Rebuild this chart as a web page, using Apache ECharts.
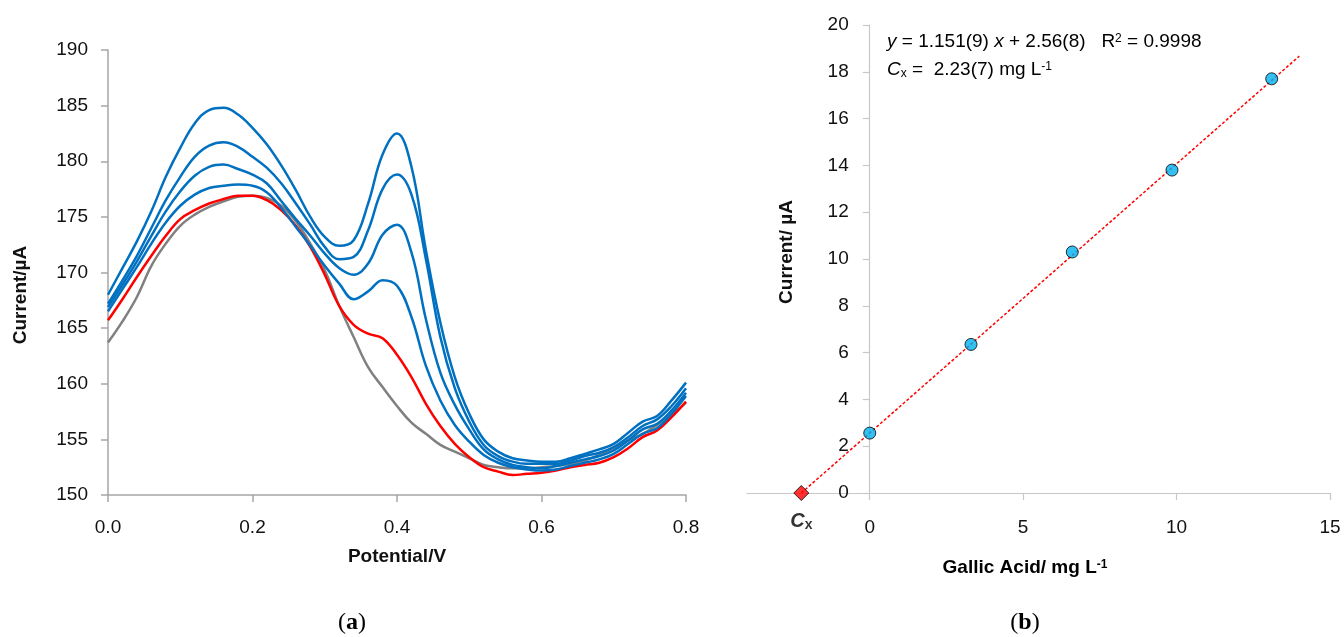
<!DOCTYPE html>
<html>
<head>
<meta charset="UTF-8">
<title>Gallic acid voltammetry</title>
<script src="https://cdn.jsdelivr.net/npm/echarts@6/dist/echarts.min.js"></script>
<style>
  html, body { margin: 0; padding: 0; background: #fff; }
  #main { width: 1344px; height: 637px; }
</style>
</head>
<body>
<div id="main"></div>
<script>
// (a) voltammograms, potential in V, current in uA
var potential = [0.00, 0.02, 0.04, 0.06, 0.08, 0.10, 0.12, 0.14, 0.16, 0.18,
                 0.20, 0.22, 0.24, 0.26, 0.28, 0.30, 0.32, 0.34, 0.36, 0.38,
                 0.40, 0.42, 0.44, 0.46, 0.48, 0.50, 0.52, 0.54, 0.56, 0.58,
                 0.60, 0.62, 0.64, 0.66, 0.68, 0.70, 0.72, 0.74, 0.76, 0.78, 0.80];

var blank = [163.7, 165.6, 167.8, 170.6, 172.6, 174.2, 175.2, 175.9, 176.4, 176.8,
             176.9, 176.7, 176.0, 174.6, 172.6, 170.2, 167.0, 164.2, 161.5, 159.7,
             158.0, 156.5, 155.5, 154.5, 153.9, 153.3, 152.7, 152.5, 152.4, 152.4,
             152.5, 152.6, 152.8, 153.1, 153.6, 154.2, 154.9, 155.5, 156.3, 157.2, 158.3];

var sample = [165.7, 167.6, 169.6, 171.5, 173.3, 174.8, 175.6, 176.2, 176.6, 176.9,
              176.9, 176.5, 175.6, 174.2, 172.3, 169.8, 167.0, 165.3, 164.5, 164.1,
              162.6, 160.6, 158.2, 156.2, 154.6, 153.4, 152.5, 152.1, 151.8, 151.9,
              152.0, 152.2, 152.5, 152.7, 152.9, 153.4, 154.2, 155.2, 155.8, 157.0, 158.4];

var add1 = [166.5, 168.5, 170.5, 172.6, 174.5, 176.0, 177.0, 177.6, 177.8, 177.9,
            177.8, 177.2, 175.8, 174.1, 172.4, 170.6, 169.0, 167.6, 168.3, 169.3,
            168.8, 166.0, 161.6, 158.5, 156.3, 154.8, 153.6, 152.9, 152.5, 152.3,
            152.2, 152.3, 152.6, 152.9, 153.2, 153.7, 154.6, 155.5, 156.0, 157.3, 158.9];

var add2 = [166.9, 168.9, 171.0, 173.3, 175.5, 177.3, 178.7, 179.5, 179.7, 179.3,
            178.8, 178.0, 176.4, 174.8, 173.3, 171.7, 170.4, 169.8, 170.8, 173.4,
            174.3, 171.8, 165.8, 161.0, 158.1, 155.9, 154.1, 153.2, 152.7, 152.5,
            152.4, 152.6, 152.9, 153.2, 153.5, 154.0, 154.9, 155.9, 156.4, 157.6, 159.2];

var add3 = [167.2, 169.3, 171.5, 174.0, 176.5, 178.6, 180.4, 181.4, 181.7, 181.3,
            180.4, 179.4, 178.0, 176.2, 174.3, 172.3, 171.2, 171.4, 173.8, 177.5,
            178.8, 177.0, 171.2, 164.2, 159.6, 156.6, 154.5, 153.5, 153.0, 152.8,
            152.8, 152.8, 153.1, 153.5, 153.8, 154.3, 155.2, 156.2, 156.8, 158.0, 159.6];

var add4 = [168.0, 170.4, 172.8, 175.5, 178.6, 181.2, 183.4, 184.6, 184.8, 184.2,
            183.0, 181.5, 179.6, 177.4, 175.0, 173.2, 172.4, 172.9, 176.2, 180.6,
            182.5, 179.5, 172.0, 165.5, 160.6, 157.3, 155.0, 153.9, 153.3, 153.1,
            153.0, 153.0, 153.3, 153.7, 154.1, 154.6, 155.6, 156.6, 157.1, 158.5, 160.1];

// (b) standard additions
var gallicAdded = [0, 3.3, 6.6, 9.85, 13.1];
var peakCurrent = [2.56, 6.35, 10.3, 13.8, 17.7];
var cxPoint = [-2.23, 0];
var trendEnds = [[-2.23, 0], [14.0, 18.67]];

var xTicksB = [0, 5, 10, 15];

function pairs(xs, ys) {
  return xs.map(function (x, i) { return [x, ys[i]]; });
}

var font = 'Liberation Sans';
var txt = '#111';
var axisGrayA = '#a6a6a6';
var axisGrayB = '#c8c8c8';

// right plot: x from -4 to 15 over 583 px, y axis sits at x = 0
var gridB = { left: 747, top: 25, width: 583, height: 468 };
var yAxisShiftB = -(0 - (-4)) / 19 * gridB.width;

function curve(data, color, z) {
  return {
    type: 'line', xAxisIndex: 0, yAxisIndex: 0,
    data: pairs(potential, data), smooth: 0.4, symbol: 'none', z: z,
    lineStyle: { color: color, width: 2.5 }
  };
}

var myChart = echarts.init(document.getElementById('main'));

var option = {
  animation: false,
  grid: [
    { left: 108, top: 50, width: 578, height: 445 },
    gridB
  ],
  xAxis: [
    {
      gridIndex: 0, type: 'value', min: 0, max: 0.8, interval: 0.2,
      axisLine: { lineStyle: { color: axisGrayA, width: 1.5 } },
      axisTick: { show: true, length: 7, lineStyle: { color: axisGrayA, width: 1.5 } },
      axisLabel: { margin: 23, fontFamily: font, fontSize: 19, color: txt,
                   formatter: function (v) { return v.toFixed(1); } },
      splitLine: { show: false }
    },
    {
      gridIndex: 1, type: 'value', min: -4, max: 15,
      axisLine: { onZero: false, lineStyle: { color: axisGrayB, width: 1.2 } },
      axisTick: { show: true, length: 7, customValues: xTicksB, lineStyle: { color: axisGrayB, width: 1.2 } },
      axisLabel: { margin: 25, fontFamily: font, fontSize: 19, color: txt, customValues: xTicksB },
      splitLine: { show: false }
    }
  ],
  yAxis: [
    {
      gridIndex: 0, type: 'value', min: 150, max: 190, interval: 5,
      axisLine: { show: true, lineStyle: { color: axisGrayA, width: 1.5 } },
      axisTick: { show: true, length: 7, lineStyle: { color: axisGrayA, width: 1.5 } },
      axisLabel: { margin: 20, fontFamily: font, fontSize: 19, color: txt },
      splitLine: { show: false }
    },
    {
      gridIndex: 1, type: 'value', min: 0, max: 20, interval: 2,
      offset: yAxisShiftB,
      axisLine: { show: true, onZero: false, lineStyle: { color: axisGrayB, width: 1.2 } },
      axisTick: { show: true, length: 7, lineStyle: { color: axisGrayB, width: 1.2 } },
      axisLabel: { margin: 21, fontFamily: font, fontSize: 19, color: txt },
      splitLine: { show: false }
    }
  ],
  series: [
    curve(blank, '#808080', 2),
    curve(sample, '#ff0000', 3),
    curve(add1, '#0070c0', 4),
    curve(add2, '#0070c0', 4),
    curve(add3, '#0070c0', 4),
    curve(add4, '#0070c0', 4),
    {
      type: 'line', xAxisIndex: 1, yAxisIndex: 1, data: trendEnds,
      symbol: 'none', z: 3,
      lineStyle: { color: '#ff0000', width: 1.5, type: [3, 2] }
    },
    {
      type: 'scatter', xAxisIndex: 1, yAxisIndex: 1, data: pairs(gallicAdded, peakCurrent),
      symbol: 'circle', symbolSize: 12, z: 5,
      itemStyle: { color: '#00b0f0', borderColor: '#000', borderWidth: 1 }
    },
    {
      type: 'scatter', xAxisIndex: 1, yAxisIndex: 1, data: [cxPoint],
      symbol: 'diamond', symbolSize: 15, z: 5,
      itemStyle: { color: '#ff0000', borderColor: '#000', borderWidth: 1 },
      label: {
        show: true, position: 'bottom', distance: 9,
        formatter: '{c|C}{s|x}',
        rich: {
          c: { fontFamily: font, fontSize: 20, fontWeight: 'bold', fontStyle: 'italic', color: '#000' },
          s: { fontFamily: font, fontSize: 14, fontWeight: 'bold', color: '#000', verticalAlign: 'bottom', padding: [8, 0, 0, 0] }
        }
      }
    }
  ],
  graphic: [
    { type: 'text', x: 21, y: 295, rotation: Math.PI / 2,
      style: { text: 'Current/µA', font: 'bold 19px "Liberation Sans"', fill: txt, align: 'center', verticalAlign: 'middle' } },
    { type: 'text', x: 397, y: 557,
      style: { text: 'Potential/V', font: 'bold 19px "Liberation Sans"', fill: txt, align: 'center', verticalAlign: 'middle' } },
    { type: 'text', x: 787, y: 252, rotation: Math.PI / 2,
      style: { text: 'Current/ µA', font: 'bold 19px "Liberation Sans"', fill: txt, align: 'center', verticalAlign: 'middle' } },
    { type: 'text', x: 1025, y: 568,
      style: {
        text: '{b|Gallic Acid/ mg L}{sup|-1}', align: 'center', verticalAlign: 'middle',
        rich: {
          b: { fontFamily: font, fontSize: 19, fontWeight: 'bold', color: txt },
          sup: { fontFamily: font, fontSize: 12, fontWeight: 'bold', color: txt, verticalAlign: 'top' }
        }
      } },
    { type: 'text', x: 887, y: 42,
      style: {
        text: '{i|y}{n| = 1.151(9) }{i|x}{n| + 2.56(8)   R}{sup|2}{n| = 0.9998}',
        align: 'left', verticalAlign: 'middle',
        rich: {
          n: { fontFamily: font, fontSize: 19, color: txt },
          i: { fontFamily: font, fontSize: 19, fontStyle: 'italic', color: txt },
          sup: { fontFamily: font, fontSize: 12, color: txt, verticalAlign: 'top' }
        }
      } },
    { type: 'text', x: 887, y: 70,
      style: {
        text: '{i|C}{sub|x}{n| =  2.23(7) mg L}{sup|-1}',
        align: 'left', verticalAlign: 'middle',
        rich: {
          n: { fontFamily: font, fontSize: 19, color: txt },
          i: { fontFamily: font, fontSize: 19, fontStyle: 'italic', color: txt },
          sub: { fontFamily: font, fontSize: 12, color: txt, verticalAlign: 'bottom' },
          sup: { fontFamily: font, fontSize: 12, color: txt, verticalAlign: 'top' }
        }
      } },
    { type: 'text', x: 352, y: 623,
      style: {
        text: '{p|(}{b|a}{p|)}', align: 'center', verticalAlign: 'middle',
        rich: {
          p: { fontFamily: 'Liberation Serif', fontSize: 24, color: txt },
          b: { fontFamily: 'Liberation Serif', fontSize: 24, fontWeight: 'bold', color: txt }
        }
      } },
    { type: 'text', x: 1025, y: 623,
      style: {
        text: '{p|(}{b|b}{p|)}', align: 'center', verticalAlign: 'middle',
        rich: {
          p: { fontFamily: 'Liberation Serif', fontSize: 24, color: txt },
          b: { fontFamily: 'Liberation Serif', fontSize: 24, fontWeight: 'bold', color: txt }
        }
      } }
  ]
};

myChart.setOption(option);
</script>
</body>
</html>
